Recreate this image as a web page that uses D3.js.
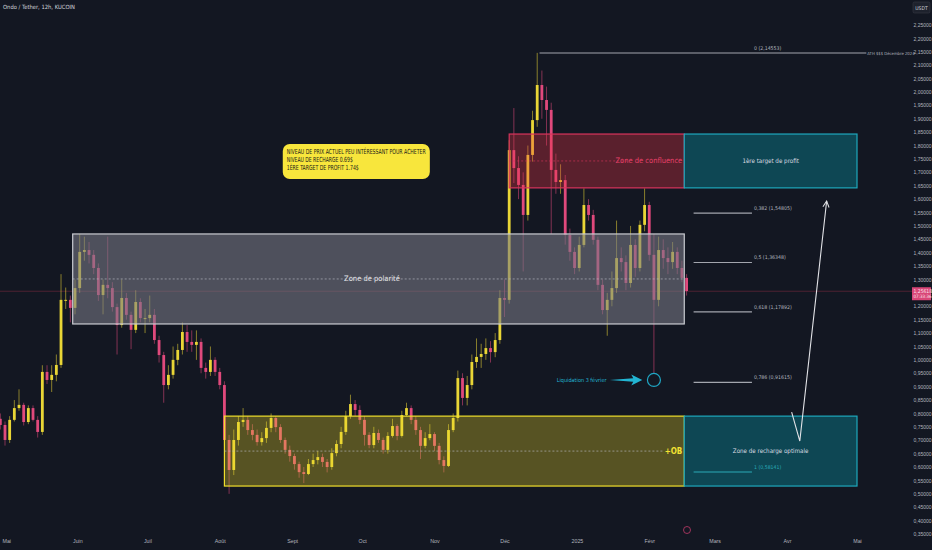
<!DOCTYPE html>
<html>
<head>
<meta charset="utf-8">
<script src="https://cdn.jsdelivr.net/npm/d3@7"></script>
<style>
html, body { margin: 0; background: #131722; overflow: hidden; }
text { font-family: "Liberation Sans Narrow", "DejaVu Sans Condensed", sans-serif; }
</style>
</head>
<body>
<div id="chart"></div>
<script>
// ONDO/USDT, 2 day candles
var candleStart = new Date(2024, 3, 29);
var candleStepDays = 2;
var firstOpen = 0.78;

var closes = [
    0.757, 0.701, 0.776, 0.820, 0.832, 0.768, 0.820, 0.776, 0.731, 0.955,
    0.925, 0.944, 0.981, 1.224, 1.224, 1.194, 1.268, 1.403, 1.410, 1.392,
    1.343, 1.242, 1.280, 1.268, 1.197, 1.130, 1.231, 1.168, 1.112, 1.216,
    1.156, 1.156, 1.168, 1.074, 1.018, 0.906, 0.944, 1.000, 1.037, 1.104,
    1.067, 1.056, 1.067, 0.970, 0.955, 1.000, 0.955, 0.906, 0.701, 0.589,
    0.701, 0.768, 0.776, 0.738, 0.720, 0.693, 0.708, 0.746, 0.783, 0.749,
    0.701, 0.664, 0.641, 0.611, 0.581, 0.574, 0.611, 0.626, 0.637, 0.619,
    0.600, 0.652, 0.686, 0.731, 0.790, 0.835, 0.813, 0.776, 0.720, 0.682,
    0.727, 0.701, 0.664, 0.716, 0.753, 0.716, 0.794, 0.820, 0.776, 0.738,
    0.679, 0.708, 0.723, 0.679, 0.626, 0.604, 0.738, 0.783, 0.932, 0.858,
    0.906, 0.992, 1.011, 1.022, 1.044, 1.029, 1.074, 1.231, 1.224, 1.783,
    1.716, 1.653, 1.541, 1.765, 1.895, 2.026, 1.970, 1.933, 1.709, 1.664,
    1.671, 1.466, 1.403, 1.343, 1.429, 1.578, 1.541, 1.448, 1.280, 1.186,
    1.224, 1.268, 1.380, 1.365, 1.287, 1.429, 1.343, 1.504, 1.578, 1.392,
    1.224, 1.410, 1.380, 1.365, 1.403, 1.343, 1.306, 1.257
];
var highs = [
    0.80, 0.77, 0.79, 0.85, 0.89, 0.84, 0.83, 0.83, 0.79, 0.98,
    0.98, 0.98, 1.02, 1.32, 1.27, 1.24, 1.30, 1.47, 1.46, 1.44,
    1.41, 1.36, 1.30, 1.46, 1.29, 1.21, 1.30, 1.25, 1.18, 1.26,
    1.23, 1.19, 1.24, 1.19, 1.09, 1.03, 0.98, 1.05, 1.06, 1.14,
    1.13, 1.11, 1.11, 1.08, 0.99, 1.05, 1.01, 0.97, 0.92, 0.72,
    0.74, 0.79, 0.82, 0.79, 0.76, 0.74, 0.73, 0.77, 0.80, 0.79,
    0.76, 0.71, 0.68, 0.65, 0.62, 0.60, 0.63, 0.65, 0.66, 0.65,
    0.63, 0.67, 0.70, 0.75, 0.81, 0.87, 0.85, 0.83, 0.79, 0.73,
    0.75, 0.74, 0.71, 0.73, 0.78, 0.76, 0.81, 0.84, 0.83, 0.79,
    0.75, 0.73, 0.76, 0.73, 0.69, 0.64, 0.76, 0.80, 0.96, 0.95,
    0.94, 1.02, 1.08, 1.06, 1.08, 1.07, 1.10, 1.26, 1.30, 1.82,
    1.94, 1.76, 1.70, 1.80, 1.93, 2.146, 2.08, 2.02, 1.96, 1.77,
    1.73, 1.69, 1.49, 1.42, 1.46, 1.64, 1.60, 1.56, 1.46, 1.30,
    1.25, 1.33, 1.52, 1.42, 1.39, 1.50, 1.45, 1.52, 1.64, 1.59,
    1.47, 1.46, 1.45, 1.42, 1.44, 1.42, 1.37, 1.32
];
var lows = [
    0.74, 0.68, 0.69, 0.77, 0.81, 0.755, 0.76, 0.77, 0.71, 0.72,
    0.91, 0.88, 0.92, 0.97, 1.19, 1.14, 1.17, 1.25, 1.37, 1.36,
    1.32, 1.22, 1.17, 1.23, 1.18, 1.02, 1.12, 1.15, 1.04, 1.10,
    1.14, 1.10, 1.14, 1.06, 0.99, 0.84, 0.89, 0.93, 0.98, 1.02,
    1.03, 1.03, 1.00, 0.95, 0.93, 0.94, 0.94, 0.89, 0.68, 0.50,
    0.57, 0.68, 0.75, 0.72, 0.70, 0.68, 0.68, 0.69, 0.73, 0.73,
    0.69, 0.65, 0.62, 0.59, 0.56, 0.54, 0.57, 0.60, 0.61, 0.60,
    0.58, 0.59, 0.64, 0.67, 0.72, 0.78, 0.79, 0.76, 0.68, 0.67,
    0.67, 0.69, 0.65, 0.65, 0.71, 0.70, 0.71, 0.79, 0.76, 0.72,
    0.63, 0.67, 0.70, 0.66, 0.61, 0.58, 0.60, 0.73, 0.77, 0.83,
    0.83, 0.89, 0.97, 0.97, 1.00, 0.99, 1.01, 1.06, 1.16, 1.21,
    1.66, 1.60, 1.33, 1.52, 1.74, 1.87, 1.90, 1.80, 1.47, 1.62,
    1.62, 1.43, 1.37, 1.32, 1.33, 1.42, 1.52, 1.43, 1.26, 1.17,
    1.09, 1.20, 1.25, 1.33, 1.26, 1.27, 1.31, 1.33, 1.48, 1.37,
    0.95, 1.20, 1.34, 1.32, 1.34, 1.32, 1.29, 1.24
];

var lastPrice = 1.25618;
var countdown = "07:33:36";

var monthDates = d3.timeMonth.range(new Date(2024, 4, 1), new Date(2025, 4, 2));
var monthLabels = ["Mai", "Juin", "Juil", "Août", "Sept", "Oct", "Nov", "Déc", "2025", "Févr", "Mars", "Avr", "Mai"];

// zones drawn by the author
var zoneNames = ["Zone de polarité", "+OB", "Zone de confluence", "1ère target de profit", "Zone de recharge optimale"];
var zoneFrom = [new Date(2024, 4, 30), new Date(2024, 7, 3), new Date(2024, 11, 3), new Date(2025, 1, 16), new Date(2025, 1, 16)];
var zoneTo = [new Date(2025, 1, 16), new Date(2025, 1, 16), new Date(2025, 1, 16), new Date(2025, 4, 1), new Date(2025, 4, 1)];
var zoneTop = [1.47, 0.79, 1.843, 1.843, 0.79];
var zoneBottom = [1.134, 0.529, 1.642, 1.642, 0.529];

var fibLevels = ["0", "0,382", "0,5", "0,618", "0,786", "1"];
var fibPrices = [2.14553, 1.54805, 1.36348, 1.17892, 0.91615, 0.58141];
var fibFrom = new Date(2025, 1, 20);
var fibTo = new Date(2025, 2, 17);
var athFrom = new Date(2024, 11, 16);
var athTo = new Date(2025, 4, 5);

var noteLines = ["NIVEAU DE PRIX ACTUEL PEU INTÉRESSANT POUR ACHETER", "NIVEAU DE RECHARGE 0.69$", "1ÈRE TARGET DE PROFIT 1.74$"];
var noteFrom = new Date(2024, 7, 28), noteTo = new Date(2024, 9, 30);
var noteTop = 1.806, noteBottom = 1.675;

var pathDates = [new Date(2025, 3, 3), new Date(2025, 3, 6, 12), new Date(2025, 3, 18)];
var pathPrices = [0.805, 0.697, 1.593];

var liqDate = new Date(2025, 1, 3);
var liqPrice = 0.925;
var liqArrowFrom = new Date(2025, 0, 15), liqArrowTo = new Date(2025, 0, 29);

var W = 932, H = 550;
var bull = "#e9d636", bear = "#e0497c";

var x = d3.scaleTime().domain([new Date(2024, 4, 1), new Date(2025, 4, 1)]).range([5, 857]);
var y = d3.scaleLinear().domain([0.35, 2.25]).range([534, 25]);

var candles = closes.map(function(c, i){
    return {
        date: d3.timeDay.offset(candleStart, i * candleStepDays),
        open: i ? closes[i - 1] : firstOpen,
        close: c, high: highs[i], low: lows[i]
    };
});
var step = x(d3.timeDay.offset(candleStart, candleStepDays)) - x(candleStart);

var svg = d3.select("#chart").append("svg")
    .attr("width", W).attr("height", H);
svg.append("rect").attr("width", W).attr("height", H).attr("fill", "#131722");

// current price line
svg.append("line")
    .attr("x1", 0).attr("x2", 912)
    .attr("y1", y(lastPrice)).attr("y2", y(lastPrice))
    .attr("stroke", "#5e2436").attr("stroke-width", 0.8);

// candles
var cg = svg.append("g");
var cs = cg.selectAll("g").data(candles).enter().append("g");
cs.append("line")
    .attr("x1", d => x(d.date)).attr("x2", d => x(d.date))
    .attr("y1", d => y(d.high)).attr("y2", d => y(d.low))
    .attr("stroke", d => d.close >= d.open ? bull : bear)
    .attr("stroke-opacity", 0.55).attr("stroke-width", 1);
cs.append("rect")
    .attr("x", d => x(d.date) - step * 0.3)
    .attr("width", step * 0.6)
    .attr("y", d => y(Math.max(d.open, d.close)))
    .attr("height", d => Math.max(1, Math.abs(y(d.open) - y(d.close))))
    .attr("fill", d => d.close >= d.open ? bull : bear);

// zones
var zoneFill = ["rgba(120,123,134,0.58)", "rgba(240,220,40,0.31)", "rgba(242,54,69,0.32)", "#0e4754", "#0e4754"];
var zoneStroke = ["#c9cbd1", "#f0df2c", "#d8345c", "#1ea8bd", "#1ea8bd"];
var zg = svg.append("g");
zoneNames.forEach(function(name, i){
    var x0 = x(zoneFrom[i]), x1 = x(zoneTo[i]);
    var y0 = y(zoneTop[i]), y1 = y(zoneBottom[i]);
    zg.append("rect")
        .attr("x", x0).attr("y", y0)
        .attr("width", x1 - x0).attr("height", y1 - y0)
        .attr("fill", zoneFill[i]).attr("stroke", zoneStroke[i]).attr("stroke-width", 1.2);
    var ym = (y0 + y1) / 2;
    if(i < 3){
        var lineEnd = i == 0 ? x1 : (i == 1 ? x1 - 20 : x1 - 55);
        zg.append("line")
            .attr("x1", x0).attr("x2", lineEnd)
            .attr("y1", ym).attr("y2", ym)
            .attr("stroke", i == 2 ? "#d8345c" : "#b9bcc4")
            .attr("stroke-opacity", 0.8)
            .attr("stroke-width", 0.8).attr("stroke-dasharray", "2,2");
    }
});
zg.append("text").attr("x", 372).attr("y", y((zoneTop[0] + zoneBottom[0]) / 2) + 2.5)
    .attr("text-anchor", "middle").attr("fill", "#e6e7ea").attr("font-size", 7.5)
    .text(zoneNames[0]);
zg.append("text").attr("x", x(zoneTo[1]) - 2).attr("y", y((zoneTop[1] + zoneBottom[1]) / 2) + 3)
    .attr("text-anchor", "end").attr("fill", "#f3e233").attr("font-size", 8).attr("font-weight", "bold")
    .text(zoneNames[1]);
zg.append("text").attr("x", x(zoneTo[2]) - 2).attr("y", y((zoneTop[2] + zoneBottom[2]) / 2) + 2.5)
    .attr("text-anchor", "end").attr("fill", "#e8406a").attr("font-size", 7.5)
    .text(zoneNames[2]);
[3, 4].forEach(function(i){
    zg.append("text")
        .attr("x", (x(zoneFrom[i]) + x(zoneTo[i])) / 2)
        .attr("y", y((zoneTop[i] + zoneBottom[i]) / 2) + 2)
        .attr("text-anchor", "middle").attr("fill", "#d9dbe0").attr("font-size", 6.2)
        .text(zoneNames[i]);
});

// fibonacci
var fmt = d3.format(".5f");
function fr(v){ return fmt(v).replace(".", ","); }
var fg = svg.append("g");
fibLevels.forEach(function(lv, i){
    var last = i == fibLevels.length - 1;
    var col = last ? "#2aa9b6" : "#a3a6ae";
    var xa = i == 0 ? x(athFrom) : x(fibFrom);
    var xb = i == 0 ? x(athTo) : x(fibTo);
    fg.append("line")
        .attr("x1", xa).attr("x2", xb)
        .attr("y1", y(fibPrices[i])).attr("y2", y(fibPrices[i]))
        .attr("stroke", col).attr("stroke-width", 1.2);
    fg.append("text")
        .attr("x", x(fibTo) + 2).attr("y", y(fibPrices[i]) - 3)
        .attr("fill", last ? "#2aa9b6" : "#b2b5be").attr("font-size", 5.2)
        .text(lv + " (" + fr(fibPrices[i]) + ")");
});
fg.append("text")
    .attr("x", x(athTo) + 1).attr("y", y(fibPrices[0]) + 1.8)
    .attr("fill", "#b2b5be").attr("font-size", 4.2)
    .text("ATH $$$ Décembre 2024");

// note
var ng = svg.append("g");
ng.append("rect")
    .attr("x", x(noteFrom)).attr("y", y(noteTop))
    .attr("width", x(noteTo) - x(noteFrom)).attr("height", y(noteBottom) - y(noteTop))
    .attr("rx", 7).attr("fill", "#f8e63c");
var noteWidths = [139, 66, 72];
noteLines.forEach(function(t, i){
    ng.append("text")
        .attr("x", x(noteFrom) + 4).attr("y", y(noteTop) + 10.5 + i * 7.8)
        .attr("fill", "#1b1b1b").attr("font-size", 7)
        .attr("textLength", noteWidths[i])
        .attr("lengthAdjust", "spacingAndGlyphs")
        .text(t);
});

// projection arrow
svg.append("defs").append("marker")
    .attr("id", "head").attr("viewBox", "0 0 10 10")
    .attr("refX", 9).attr("refY", 5)
    .attr("markerWidth", 7).attr("markerHeight", 7)
    .attr("orient", "auto")
    .append("path").attr("d", "M1,1 L9,5 L1,9")
    .attr("fill", "none").attr("stroke", "#e3e4e8").attr("stroke-width", 1.3);
var pts = pathDates.map((d, i) => [x(d), y(pathPrices[i])]);
svg.append("path")
    .attr("d", d3.line()(pts))
    .attr("fill", "none").attr("stroke", "#e3e4e8").attr("stroke-width", 1.1)
    .attr("marker-end", "url(#head)");

// liquidation note
var lx = x(liqDate), ly = y(liqPrice);
svg.append("circle").attr("cx", lx).attr("cy", ly).attr("r", 6.5)
    .attr("fill", "none").attr("stroke", "#1fa6c4").attr("stroke-width", 1.2);
var ax0 = x(liqArrowFrom), ax1 = x(liqArrowTo);
svg.append("path")
    .attr("d", d3.line()([[ax0, ly], [ax1 - 9, ly - 1.8], [ax1 - 11, ly - 5.5], [ax1, ly],
        [ax1 - 11, ly + 5.5], [ax1 - 9, ly + 1.8], [ax0, ly]]))
    .attr("fill", "#22b5d3");
svg.append("text").attr("x", ax0 - 3).attr("y", ly + 2)
    .attr("text-anchor", "end").attr("fill", "#22b5d3").attr("font-size", 5.5)
    .text("Liquidation 3 février");

// small event marker
svg.append("circle").attr("cx", 687).attr("cy", 530).attr("r", 3.5)
    .attr("fill", "#131722").attr("stroke", "#c23b6a").attr("stroke-width", 0.8);

// price axis, the tick under the last price tag is hidden like on the platform
var ticks = d3.range(7, 46).map(k => k * 0.05)
    .filter(v => Math.abs(y(v) - y(lastPrice)) > 8);
var ya = svg.append("g").attr("transform", "translate(913,0)")
    .call(d3.axisRight(y).tickValues(ticks).tickSize(0).tickPadding(0.5).tickFormat(fr));
ya.select(".domain").remove();
ya.selectAll("text").attr("fill", "#b2b5be").attr("font-size", 5)
    .style("font-family", "'Liberation Sans Narrow', sans-serif");

// last price tag
svg.append("rect").attr("x", 912).attr("y", y(lastPrice) - 4).attr("width", 19).attr("height", 13)
    .attr("fill", "#d94677");
svg.append("text").attr("x", 913.5).attr("y", y(lastPrice) + 1.5)
    .attr("fill", "#fbe3ec").attr("font-size", 5).text(fr(lastPrice));
svg.append("text").attr("x", 913.5).attr("y", y(lastPrice) + 7.2)
    .attr("fill", "#fbe3ec").attr("font-size", 4.5).text(countdown);

// currency badge
svg.append("rect").attr("x", 913).attr("y", 2).attr("width", 17).attr("height", 11)
    .attr("rx", 1.5).attr("fill", "#1e222d").attr("stroke", "#363a45").attr("stroke-width", 0.6);
svg.append("text").attr("x", 921.5).attr("y", 9.5).attr("text-anchor", "middle")
    .attr("fill", "#d1d4dc").attr("font-size", 5).text("USDT");

// time axis
var xa = svg.append("g").attr("transform", "translate(0,538)")
    .call(d3.axisBottom(x).tickValues(monthDates).tickSize(0).tickPadding(1)
        .tickFormat((d, i) => monthLabels[i]));
xa.select(".domain").remove();
xa.selectAll("text").attr("fill", "#b2b5be").attr("font-size", 5.3)
    .style("font-family", "'Liberation Sans Narrow', sans-serif");
xa.selectAll(".tick").filter((d, i) => i == 0).select("text").attr("text-anchor", "start").attr("dx", -3);

// title
svg.append("text").attr("x", 3).attr("y", 9)
    .attr("fill", "#d1d4dc").attr("font-size", 5.8)
    .text("Ondo / Tether, 12h, KUCOIN");
</script>
</body>
</html>
